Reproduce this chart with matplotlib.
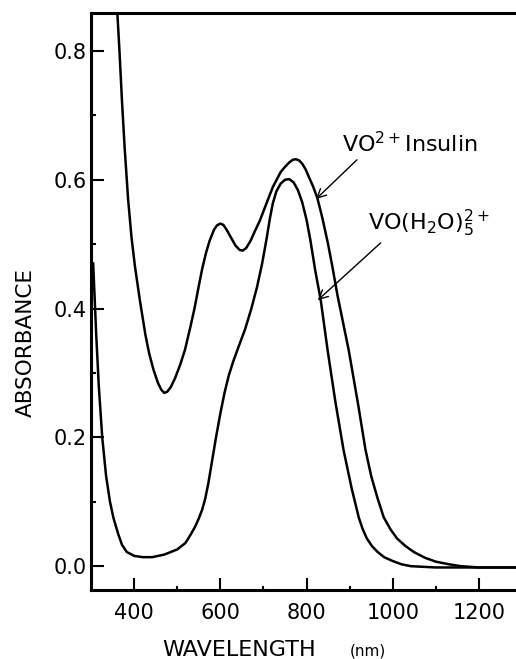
import matplotlib
matplotlib.use('Agg')
import matplotlib.pyplot as plt
from matplotlib.ticker import MultipleLocator

# VO(H2O)5 2+ spectrum
aq_wl = [305, 312, 318, 326, 335, 344, 352, 363, 372, 383, 400, 420, 442, 470, 500, 519,
         532, 542, 550, 558, 565, 572, 580, 590, 600, 610, 620, 630, 643, 657, 672, 685,
         697, 708, 715, 722, 730, 740, 750, 760, 770, 780, 790, 800, 809, 820, 833, 849,
         867, 886, 905, 921, 930, 940, 952, 965, 980, 1000, 1020, 1042, 1100, 1200, 1286]
aq_abs = [0.47, 0.36, 0.28, 0.20, 0.14, 0.10, 0.075, 0.05, 0.033, 0.022, 0.016, 0.014, 0.014,
          0.018, 0.026, 0.036, 0.05, 0.062, 0.074, 0.088, 0.105, 0.128, 0.16, 0.2, 0.237,
          0.27, 0.297, 0.318, 0.342, 0.367, 0.40, 0.433, 0.47, 0.511, 0.54, 0.564, 0.582,
          0.594, 0.600, 0.601, 0.596, 0.584, 0.565, 0.538, 0.506, 0.46, 0.413, 0.335, 0.255,
          0.18, 0.12, 0.076, 0.058, 0.043, 0.031, 0.022, 0.014, 0.008, 0.003, 0.0, -0.002,
          -0.002, -0.002]

# VO2+ insulin spectrum
ins_wl = [361, 366, 372, 378, 386, 394, 402, 414, 426, 435, 445, 455, 463, 470, 477, 485,
          495, 507, 518, 530, 540, 550, 558, 567, 575, 585, 592, 600, 607, 615, 625, 635,
          645, 652, 660, 670, 680, 692, 708, 722, 740, 750, 760, 768, 775, 783, 790, 798,
          805, 815, 825, 837, 850, 860, 872, 898, 920, 937, 950, 965, 979, 995, 1010, 1030,
          1049, 1075, 1100, 1130, 1158, 1200, 1286]
ins_abs = [0.86, 0.80, 0.72, 0.65, 0.57, 0.51, 0.465, 0.41, 0.36, 0.33, 0.305, 0.285, 0.274,
           0.269, 0.271, 0.278, 0.292, 0.313, 0.336, 0.37, 0.40, 0.435, 0.462, 0.487, 0.505,
           0.522, 0.529, 0.532, 0.530, 0.522, 0.51, 0.498, 0.491, 0.49, 0.494, 0.505, 0.52,
           0.537, 0.565, 0.589, 0.612, 0.620, 0.627, 0.631, 0.632, 0.630, 0.625, 0.616, 0.605,
           0.59, 0.572, 0.54, 0.50, 0.465, 0.42, 0.335, 0.25, 0.18, 0.14, 0.105, 0.076, 0.057,
           0.043, 0.031, 0.022, 0.013, 0.007, 0.003, 0.0, -0.002, -0.002]

plt.rcParams['mathtext.default'] = 'regular'

fig = plt.figure(figsize=(5.16, 6.59), dpi=100)
ax = fig.add_axes([0.1764, 0.1047, 0.8236, 0.8756])

ax.plot(aq_wl, aq_abs, color='black', lw=1.8)
ax.plot(ins_wl, ins_abs, color='black', lw=1.8)

ax.set_xlim(300, 1286)
ax.set_ylim(-0.037, 0.859)

ax.spines['right'].set_visible(False)
for s in ['left', 'bottom', 'top']:
    ax.spines[s].set_linewidth(2.2)

ax.xaxis.set_major_locator(MultipleLocator(200))
ax.xaxis.set_minor_locator(MultipleLocator(100))
ax.yaxis.set_major_locator(MultipleLocator(0.2))
ax.yaxis.set_minor_locator(MultipleLocator(0.1))
ax.tick_params(axis='both', which='both', direction='in', width=1.5, labelsize=15)
ax.tick_params(axis='x', which='major', length=8.6, pad=9)
ax.tick_params(axis='x', which='minor', length=3.2)
ax.tick_params(axis='y', which='major', length=9.6, pad=3)
ax.tick_params(axis='y', which='minor', length=3.6)
ax.tick_params(top=False, right=False, which='both')
ax.yaxis.set_major_formatter(plt.FormatStrFormatter('%.1f'))

fig.text(0.050, 0.481, 'ABSORBANCE', rotation=90, fontsize=15.5, ha='center', va='center')
fig.text(0.314, 0.004, 'WAVELENGTH', fontsize=16, ha='left', va='baseline')
fig.text(0.678, 0.006, '(nm)', fontsize=11, ha='left', va='baseline')

ax.text(882, 0.643, 'VO$^{2+}$Insulin', fontsize=16, ha='left', va='baseline')
ax.text(942, 0.522, 'VO(H$_2$O)$_5^{2+}$', fontsize=16, ha='left', va='baseline')
arrow = dict(arrowstyle='->', color='black', lw=1.0, shrinkA=0, shrinkB=0, mutation_scale=16)
ax.annotate('', xy=(822, 0.570), xytext=(917, 0.631), arrowprops=arrow)
ax.annotate('', xy=(826, 0.413), xytext=(972, 0.502), arrowprops=arrow)

plt.savefig('out.png', dpi=100)
plt.close()
